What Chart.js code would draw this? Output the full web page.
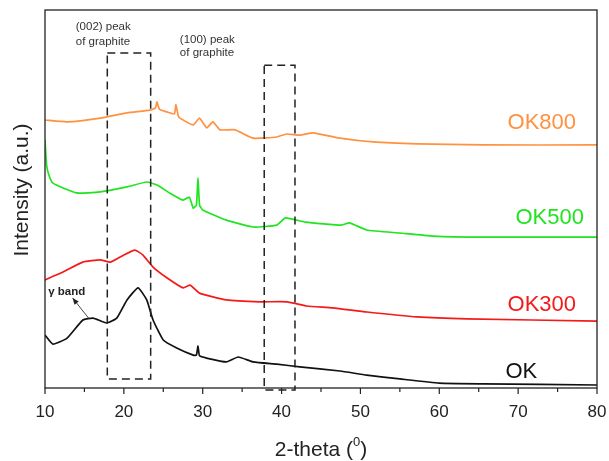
<!DOCTYPE html>
<html>
<head>
<meta charset="utf-8">
<script src="https://cdn.jsdelivr.net/npm/chart.js@4.4.1/dist/chart.umd.min.js"></script>
<style>
  body { margin: 0; background: #fff; }
  #wrap { width: 609px; height: 461px; }
</style>
</head>
<body>
<div id="wrap"><canvas id="xrdChart" width="609" height="461"></canvas></div>
<script>
// XRD patterns (2-theta in degrees, intensity offset in arbitrary units 0..100)
const okX = [10, 11, 12.8, 14.8, 16.1, 17.8, 19.1, 20.4, 21.8, 22.9, 23.7, 25, 26.7, 28.8, 29.2, 29.4, 29.6, 30.5, 33, 34.5, 36.4, 39.4, 42.3, 47.4, 50.8, 55, 60, 65.5, 80];
const okY = [14.0, 11.6, 13.2, 18.0, 18.5, 17.2, 18.5, 23.3, 26.5, 23.3, 18.0, 12.7, 10.6, 8.7, 8.7, 11.1, 8.5, 7.9, 6.9, 8.2, 6.9, 6.3, 5.6, 4.5, 3.4, 2.4, 1.3, 1.1, 0.8];

const ok300X = [10, 12, 14.8, 17, 18.3, 20, 21.4, 22.4, 23.7, 25.5, 27.5, 28.4, 29.6, 33, 37.3, 40.7, 43.2, 46.5, 50.8, 57.2, 63.5, 80];
const ok300Y = [28.6, 30.4, 33.3, 33.9, 33.3, 35.2, 36.5, 35.2, 32.0, 29.1, 26.5, 27.2, 25.1, 23.3, 22.8, 22.8, 21.7, 21.2, 20.1, 18.8, 18.3, 17.7];

const ok500X = [10, 10.2, 10.5, 11, 14, 17, 20.4, 22.9, 24.2, 25.8, 27.5, 28.3, 28.8, 29.2, 29.4, 29.6, 30, 33, 36.4, 39.4, 40.5, 43, 47.6, 48.6, 50.8, 55, 59.2, 65.5, 80];
const ok500Y = [65.6, 59.0, 56.3, 54.2, 51.6, 51.9, 53.2, 54.5, 53.7, 51.6, 49.7, 50.5, 47.6, 48.4, 55.6, 48.4, 47.1, 44.4, 42.6, 43.1, 45.0, 43.9, 43.1, 43.7, 41.8, 41.0, 40.2, 39.9, 39.9];

const ok800X = [10, 12.8, 17, 20.4, 23.3, 24.0, 24.2, 24.5, 25.5, 26.4, 26.6, 26.9, 27.1, 28.8, 29.6, 30.5, 31.3, 32.2, 34.1, 36.4, 39.4, 40.6, 42.3, 44, 47.4, 51.6, 57.2, 65.5, 80];
const ok800Y = [70.9, 70.4, 71.4, 72.8, 73.5, 74.1, 75.7, 73.8, 73.0, 72.5, 74.9, 72.0, 71.4, 69.6, 71.4, 68.8, 70.4, 68.3, 68.3, 66.1, 66.4, 67.2, 66.9, 67.5, 66.1, 65.1, 64.6, 64.3, 64.3];

const seriesNames = ['OK', 'OK300', 'OK500', 'OK800'];
const seriesColors = ['#111111', '#f41a1a', '#1fe51f', '#ff913f'];
const labelX = [70.4, 73.0, 74.0, 73.0];
const labelY = [4.2, 22.0, 45.0, 70.1];

const xTickValues = [10, 20, 30, 40, 50, 60, 70, 80];
const peakBoxes = [
    { x0: 17.9, x1: 23.4, yTop: 88.6, yBottom: 2.4, text: ['(002) peak', 'of graphite'], tx: 13.9, ty: [95.5, 91.5] },
    { x0: 37.8, x1: 41.7, yTop: 85.4, yBottom: -0.5, text: ['(100) peak', 'of graphite'], tx: 27.1, ty: [92.1, 88.6] }
];

function toPoints(xs, ys) {
    return xs.map((x, i) => ({ x: x, y: ys[i] }));
}

const datasets = [
    toPoints(okX, okY),
    toPoints(ok300X, ok300Y),
    toPoints(ok500X, ok500Y),
    toPoints(ok800X, ok800Y)
].map((pts, i) => ({
    label: seriesNames[i],
    data: pts,
    borderColor: seriesColors[i],
    borderWidth: 1.7,
    pointRadius: 0,
    tension: 0.15,
    fill: false
}));

// frame, ticks, annotations, titles
const decorations = {
    id: 'decorations',
    afterDraw(chart) {
        const ctx = chart.ctx;
        const a = chart.chartArea;
        const xs = chart.scales.x;
        const ys = chart.scales.y;
        ctx.save();

        // frame
        ctx.strokeStyle = '#222';
        ctx.lineWidth = 1.3;
        ctx.strokeRect(a.left, a.top, a.right - a.left, a.bottom - a.top);

        // tick marks (major every 10, minor every 5)
        ctx.lineWidth = 1.2;
        for (let v = 10; v <= 80; v += 5) {
            const px = xs.getPixelForValue(v);
            const len = v % 10 === 0 ? 6 : 4;
            ctx.beginPath();
            ctx.moveTo(px, a.bottom);
            ctx.lineTo(px, a.bottom + len);
            ctx.stroke();
        }

        // dashed peak boxes
        ctx.setLineDash([8, 5]);
        ctx.lineWidth = 1.5;
        ctx.strokeStyle = '#222';
        peakBoxes.forEach(b => {
            const l = xs.getPixelForValue(b.x0), r = xs.getPixelForValue(b.x1);
            const t = ys.getPixelForValue(b.yTop), btm = ys.getPixelForValue(b.yBottom);
            ctx.strokeRect(l, t, r - l, btm - t);
        });
        ctx.setLineDash([]);

        ctx.fillStyle = '#333';
        ctx.font = '11.5px "Liberation Sans", Arial, sans-serif';
        ctx.textAlign = 'left';
        ctx.textBaseline = 'middle';
        peakBoxes.forEach(b => {
            b.text.forEach((line, i) => {
                ctx.fillText(line, xs.getPixelForValue(b.tx), ys.getPixelForValue(b.ty[i]));
            });
        });

        // gamma band note with arrow
        ctx.font = 'bold 11.5px "Liberation Sans", Arial, sans-serif';
        ctx.fillStyle = '#222';
        ctx.fillText('γ band', xs.getPixelForValue(10.4), ys.getPixelForValue(25.4));
        const ax0 = xs.getPixelForValue(15.6), ay0 = ys.getPixelForValue(18.3);
        const ax1 = xs.getPixelForValue(13.5), ay1 = ys.getPixelForValue(23.8);
        ctx.strokeStyle = '#333';
        ctx.lineWidth = 0.9;
        ctx.beginPath();
        ctx.moveTo(ax0, ay0);
        ctx.lineTo(ax1, ay1);
        ctx.stroke();
        const ang = Math.atan2(ay1 - ay0, ax1 - ax0);
        ctx.beginPath();
        ctx.moveTo(ax1, ay1);
        ctx.lineTo(ax1 - 7 * Math.cos(ang - 0.4), ay1 - 7 * Math.sin(ang - 0.4));
        ctx.lineTo(ax1 - 7 * Math.cos(ang + 0.4), ay1 - 7 * Math.sin(ang + 0.4));
        ctx.closePath();
        ctx.fillStyle = '#222';
        ctx.fill();

        // series labels
        ctx.font = '22px "Liberation Sans", Arial, sans-serif';
        ctx.textAlign = 'center';
        seriesNames.forEach((name, i) => {
            ctx.fillStyle = seriesColors[i];
            ctx.fillText(name, xs.getPixelForValue(labelX[i]), ys.getPixelForValue(labelY[i]));
        });

        // axis titles
        ctx.fillStyle = '#222';
        ctx.font = '21px "Liberation Sans", Arial, sans-serif';
        ctx.textAlign = 'left';
        const main = '2-theta (';
        const wMain = ctx.measureText(main).width;
        ctx.font = '13px "Liberation Sans", Arial, sans-serif';
        const wSup = ctx.measureText('0').width;
        ctx.font = '21px "Liberation Sans", Arial, sans-serif';
        const wEnd = ctx.measureText(')').width;
        let tx = (a.left + a.right) / 2 - (wMain + wSup + wEnd) / 2;
        const ty = 450;
        ctx.fillText(main, tx, ty);
        tx += wMain;
        ctx.font = '13px "Liberation Sans", Arial, sans-serif';
        ctx.fillText('0', tx, ty - 8);
        tx += wSup;
        ctx.font = '21px "Liberation Sans", Arial, sans-serif';
        ctx.fillText(')', tx, ty);

        ctx.translate(22, 190);
        ctx.rotate(-Math.PI / 2);
        ctx.textAlign = 'center';
        ctx.font = '21px "Liberation Sans", Arial, sans-serif';
        ctx.fillText('Intensity (a.u.)', 0, 0);
        ctx.restore();
    }
};

const chart = new Chart(document.getElementById('xrdChart').getContext('2d'), {
    type: 'line',
    data: { datasets: datasets },
    options: {
        responsive: false,
        animation: false,
        layout: { padding: { left: 45, top: 10, right: 12, bottom: 0 } },
        plugins: { legend: { display: false }, tooltip: { enabled: false } },
        scales: {
            x: {
                type: 'linear',
                min: 10,
                max: 80,
                afterBuildTicks: scale => {
                    scale.ticks = xTickValues.map(v => ({ value: v }));
                },
                afterFit: scale => {
                    scale.height = 73;
                    scale.paddingLeft = 0;
                    scale.paddingRight = 0;
                },
                grid: { display: false, drawTicks: false },
                border: { display: false },
                ticks: {
                    padding: 14,
                    color: '#222',
                    maxRotation: 0,
                    font: { size: 17, family: '"Liberation Sans", Arial, sans-serif' }
                }
            },
            y: {
                display: false,
                min: 0,
                max: 100
            }
        }
    },
    plugins: [decorations]
});
</script>
</body>
</html>
